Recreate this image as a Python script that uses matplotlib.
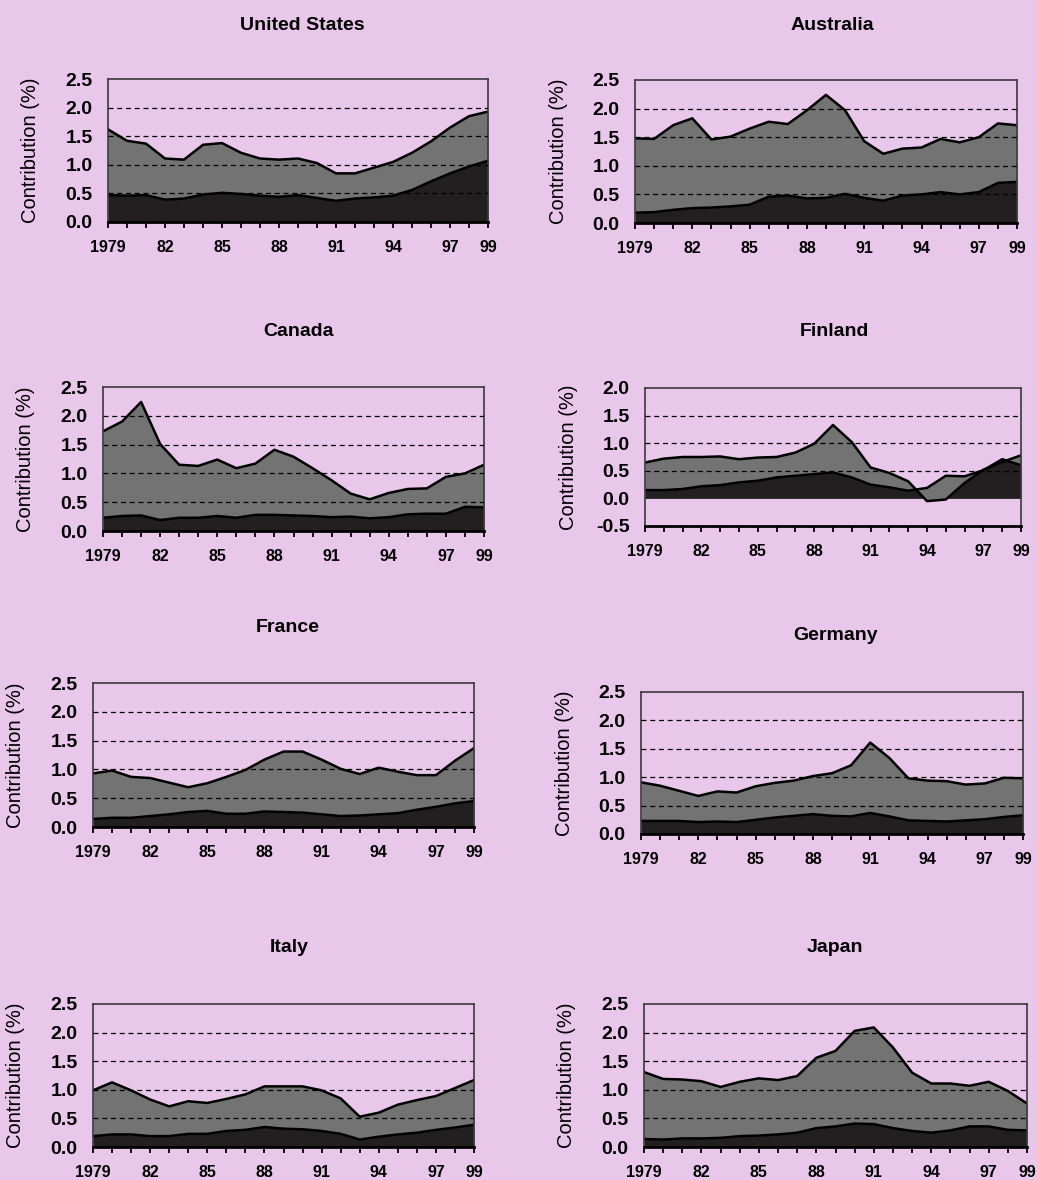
import numpy as np
import matplotlib
matplotlib.use("Agg")
import matplotlib.pyplot as plt

# colours
bg = "#E9C7EA"
grey = "#737373"
dark = "#231F20"

plt.rcParams['font.family'] = ['Liberation Sans', 'DejaVu Sans']

years = list(range(1979, 2000))
labelled = {1979: "1979", 1982: "82", 1985: "85", 1988: "88",
            1991: "91", 1994: "94", 1997: "97", 1999: "99"}

# total contribution (grey top) and dark component
us_total = [1.62, 1.42, 1.37, 1.11, 1.09, 1.35, 1.38, 1.21, 1.11, 1.09, 1.11,
            1.03, 0.85, 0.85, 0.95, 1.05, 1.21, 1.41, 1.65, 1.85, 1.93]
us_dark = [0.47, 0.46, 0.47, 0.39, 0.41, 0.48, 0.51, 0.49, 0.46, 0.44, 0.47,
           0.42, 0.37, 0.41, 0.43, 0.46, 0.56, 0.71, 0.85, 0.97, 1.07]

aus_total = [1.48, 1.47, 1.71, 1.83, 1.46, 1.51, 1.65, 1.77, 1.73, 1.97, 2.24,
             1.97, 1.43, 1.21, 1.30, 1.32, 1.47, 1.41, 1.50, 1.74, 1.71]
aus_dark = [0.18, 0.19, 0.23, 0.26, 0.27, 0.29, 0.32, 0.46, 0.48, 0.43, 0.44,
            0.51, 0.44, 0.39, 0.48, 0.50, 0.54, 0.50, 0.54, 0.70, 0.72]

can_total = [1.73, 1.90, 2.24, 1.51, 1.15, 1.13, 1.24, 1.09, 1.17, 1.41, 1.29,
             1.09, 0.88, 0.65, 0.55, 0.66, 0.73, 0.74, 0.94, 1.00, 1.15]
can_dark = [0.23, 0.26, 0.27, 0.19, 0.23, 0.23, 0.26, 0.23, 0.28, 0.28, 0.27,
            0.26, 0.24, 0.25, 0.22, 0.24, 0.29, 0.30, 0.30, 0.42, 0.41]

fin_total = [0.65, 0.72, 0.75, 0.75, 0.76, 0.71, 0.74, 0.75, 0.83, 0.99, 1.33,
             1.02, 0.56, 0.46, 0.31, -0.05, -0.02, 0.28, 0.52, 0.66, 0.78]
fin_dark = [0.15, 0.15, 0.17, 0.22, 0.24, 0.29, 0.32, 0.38, 0.41, 0.44, 0.47,
            0.38, 0.25, 0.20, 0.14, 0.19, 0.41, 0.40, 0.51, 0.71, 0.60]

fra_total = [0.93, 0.98, 0.87, 0.85, 0.77, 0.69, 0.76, 0.87, 0.99, 1.17, 1.31,
             1.31, 1.17, 1.01, 0.92, 1.03, 0.96, 0.90, 0.90, 1.15, 1.37]
fra_dark = [0.14, 0.16, 0.16, 0.19, 0.22, 0.26, 0.28, 0.23, 0.23, 0.27, 0.26,
            0.25, 0.22, 0.19, 0.20, 0.22, 0.24, 0.30, 0.35, 0.41, 0.45]

ger_total = [0.91, 0.85, 0.76, 0.67, 0.75, 0.73, 0.84, 0.90, 0.94, 1.02, 1.07,
             1.21, 1.61, 1.34, 0.98, 0.94, 0.93, 0.87, 0.89, 0.99, 0.98]
ger_dark = [0.23, 0.23, 0.23, 0.21, 0.22, 0.21, 0.25, 0.29, 0.32, 0.35, 0.32,
            0.31, 0.37, 0.31, 0.24, 0.23, 0.22, 0.24, 0.26, 0.30, 0.33]

ita_total = [0.99, 1.13, 0.99, 0.83, 0.71, 0.80, 0.77, 0.84, 0.92, 1.06, 1.06,
             1.06, 0.99, 0.85, 0.53, 0.60, 0.74, 0.82, 0.89, 1.03, 1.17]
ita_dark = [0.19, 0.22, 0.22, 0.19, 0.19, 0.23, 0.23, 0.28, 0.30, 0.35, 0.32,
            0.31, 0.28, 0.23, 0.13, 0.18, 0.22, 0.25, 0.30, 0.34, 0.39]

jpn_total = [1.31, 1.19, 1.18, 1.15, 1.05, 1.14, 1.20, 1.17, 1.24, 1.56, 1.68,
             2.03, 2.09, 1.74, 1.30, 1.11, 1.11, 1.07, 1.14, 0.98, 0.76]
jpn_dark = [0.14, 0.13, 0.15, 0.15, 0.16, 0.19, 0.20, 0.22, 0.25, 0.33, 0.36,
            0.41, 0.40, 0.33, 0.28, 0.25, 0.29, 0.36, 0.36, 0.30, 0.29]

# panel boxes in pixels: left, right, top, bottom ; title centre x, y
W, H = 1037, 1180
panels = [
    ("United States", us_total, us_dark, (0, 2.5), (108, 488, 79, 222), (302, 25)),
    ("Australia", aus_total, aus_dark, (0, 2.5), (635, 1017, 80, 223), (832, 26)),
    ("Canada", can_total, can_dark, (0, 2.5), (103, 484, 387, 531), (298, 332)),
    ("Finland", fin_total, fin_dark, (-0.5, 2.0), (645, 1021, 388, 526), (834, 331)),
    ("France", fra_total, fra_dark, (0, 2.5), (93, 474, 683, 827), (288, 627)),
    ("Germany", ger_total, ger_dark, (0, 2.5), (641, 1023, 692, 834), (836, 635)),
    ("Italy", ita_total, ita_dark, (0, 2.5), (93, 474, 1004, 1147), (289, 947)),
    ("Japan", jpn_total, jpn_dark, (0, 2.5), (644, 1027, 1004, 1147), (835, 948)),
]

fig = plt.figure(figsize=(W / 100, H / 100), dpi=100, facecolor=bg)

for name, total, darkv, ylim, box, tpos in panels:
    l, r, t, b = box
    ax = fig.add_axes([l / W, 1 - b / H, (r - l) / W, (b - t) / H])
    ax.set_facecolor(bg)

    ax.fill_between(years, 0, darkv, color=dark, lw=0, zorder=1)
    ax.fill_between(years, darkv, total, color=grey, lw=0, zorder=1)
    ax.plot(years, darkv, color="black", lw=1.8, zorder=2)
    ax.plot(years, total, color="black", lw=1.8, zorder=2)

    yt = np.arange(ylim[0], ylim[1] + 0.01, 0.5)
    for v in yt[1:-1]:
        if v > 0:
            ax.axhline(v, color="black", lw=0.9, ls=(0, (4, 3)), zorder=3)

    ax.set_xlim(1979, 1999)
    ax.set_ylim(*ylim)
    ax.set_yticks(yt)
    ax.set_yticklabels([f"{v:.1f}" for v in yt], fontsize=14, fontweight="bold")
    ax.set_xticks(years)
    ax.set_xticklabels([labelled.get(y, "") for y in years], fontsize=11.5, fontweight="bold")
    ax.tick_params(axis="y", length=0, pad=11)
    ax.tick_params(axis="x", length=4, width=1.3, direction="out", pad=9)

    for s in ("top", "right", "left"):
        ax.spines[s].set_color("#3a3a3a")
        ax.spines[s].set_linewidth(1.2)
    ax.spines["bottom"].set_color("black")
    ax.spines["bottom"].set_linewidth(2)

    fig.text(tpos[0] / W, 1 - tpos[1] / H, name, ha="center", va="center",
             fontsize=14, fontweight="bold")
    fig.text((l - 77) / W, 1 - (t + b) / 2 / H, "Contribution (%)", rotation=90,
             ha="center", va="center", fontsize=14.5)

fig.savefig("out.png", dpi=100, facecolor=bg)
